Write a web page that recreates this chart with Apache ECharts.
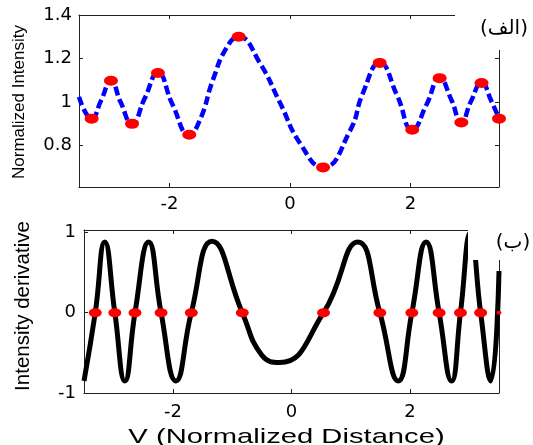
<!DOCTYPE html>
<html>
<head>
<meta charset="utf-8">
<script src="https://cdn.jsdelivr.net/npm/echarts@6/dist/echarts.min.js"></script>
<style>html,body{margin:0;padding:0;background:#fff;}#c{width:533px;height:445px;}</style>
</head>
<body>
<div id="c"></div>
<script>
// Top panel: normalized intensity curve
var topX = [-3.5, -3.29, -3.13, -2.97, -2.81, -2.62, -2.41, -2.19, -1.95, -1.67, -1.49, -1.28, -1.05, -0.85, -0.5, -0.17, 0.17, 0.55, 1.0, 1.21, 1.49, 1.78, 2.03, 2.27, 2.485, 2.68, 2.845, 3.0, 3.18, 3.35, 3.47];
var topY = [1.024, 0.924, 1.01, 1.098, 1.0, 0.90, 1.017, 1.134, 0.99, 0.85, 0.92, 1.10, 1.25, 1.30, 1.18, 1.0, 0.81, 0.70, 0.87, 1.04, 1.18, 1.03, 0.873, 0.99, 1.11, 1.01, 0.906, 1.0, 1.088, 1.0, 0.924];
// Top panel: extrema markers
var topExtX = [-3.29, -2.97, -2.62, -2.19, -1.67, -0.85, 0.55, 1.49, 2.03, 2.485, 2.845, 3.18, 3.47];
var topExtY = [0.924, 1.098, 0.90, 1.134, 0.85, 1.30, 0.70, 1.18, 0.873, 1.11, 0.906, 1.088, 0.924];
// Bottom panel: intensity derivative curve
var botX = [-3.5, -3.31, -3.15, -2.98, -2.81, -2.64, -2.41, -2.20, -1.95, -1.69, -1.34, -0.83, -0.5, -0.2, 0.54, 1.12, 1.49, 1.8, 2.03, 2.27, 2.49, 2.7, 2.85, 3.02, 3.19, 3.36, 3.5];
var botY = [-0.85, 0, 0.88, 0, -0.85, 0, 0.88, 0, -0.85, 0, 0.89, 0, -0.53, -0.62, 0, 0.88, 0, -0.85, 0, 0.88, 0, -0.85, 0, 1.0, 0, -0.85, 0.52];
// Bottom panel: zero crossings
var zeroX = [-3.31, -2.98, -2.64, -2.20, -1.69, -0.83, 0.54, 1.49, 2.03, 2.49, 2.85, 3.19, 3.5];
var zeroY = [0, 0, 0, 0, 0, 0, 0, 0, 0, 0, 0, 0, 0];
// Tick values
var topXTicks = [-2, 0, 2];
var topYTicks = [0.8, 1, 1.2, 1.4];
var botXTicks = [-2, 0, 2];
var botYTicks = [-1, 0, 1];

function pairs(xs, ys) { return xs.map(function (x, i) { return [x, ys[i]]; }); }

var axisColor = '#222';
var labelFont = { fontFamily: 'DejaVu Sans', fontSize: 18, color: '#000' };

function xAx(grid, min, max, ticks, pos, showLabel, margin) {
  return {
    type: 'value', gridIndex: grid, min: min, max: max, position: pos,
    axisLine: { show: true, onZero: false, lineStyle: { color: axisColor, width: 1 } },
    axisTick: { show: true, inside: true, length: 4, customValues: ticks, lineStyle: { color: axisColor } },
    axisLabel: Object.assign({ show: showLabel, customValues: ticks, margin: margin }, labelFont),
    splitLine: { show: false }
  };
}
function yAx(grid, min, max, ticks, pos, showLabel, margin, fmt) {
  return {
    type: 'value', gridIndex: grid, min: min, max: max, position: pos,
    axisLine: { show: true, onZero: false, lineStyle: { color: axisColor, width: 1 } },
    axisTick: { show: true, inside: true, length: 4, customValues: ticks, lineStyle: { color: axisColor } },
    axisLabel: Object.assign({ show: showLabel, customValues: ticks, margin: margin, formatter: fmt }, labelFont),
    splitLine: { show: false }
  };
}
var fmt = function (v) { return String(Math.round(v * 10) / 10); };

var chart = echarts.init(document.getElementById('c'));
chart.setOption({
  animation: false,
  backgroundColor: '#fff',
  grid: [
    { left: 79, top: 15, width: 420, height: 172 },
    { left: 84, top: 230, width: 415, height: 163 }
  ],
  xAxis: [
    xAx(0, -3.5, 3.47, topXTicks, 'bottom', true, 8),
    xAx(0, -3.5, 3.47, topXTicks, 'top', false, 8),
    xAx(1, -3.5, 3.5, botXTicks, 'bottom', true, 10),
    xAx(1, -3.5, 3.5, botXTicks, 'top', false, 10)
  ],
  yAxis: [
    yAx(0, 0.61, 1.4, topYTicks, 'left', true, 7, fmt),
    yAx(0, 0.61, 1.4, topYTicks, 'right', false, 7, fmt),
    yAx(1, -1, 1.03, botYTicks, 'left', true, 8, fmt),
    yAx(1, -1, 1.03, botYTicks, 'right', false, 8, fmt)
  ],
  series: [
    {
      type: 'line', xAxisIndex: 0, yAxisIndex: 0, data: pairs(topX, topY),
      smooth: 0.5, showSymbol: false, z: 2,
      lineStyle: { color: '#0000FF', width: 4.5, type: [9, 4], cap: 'butt' }
    },
    {
      type: 'scatter', xAxisIndex: 0, yAxisIndex: 0, data: pairs(topExtX, topExtY),
      symbol: 'circle', symbolSize: [14, 10], z: 3,
      itemStyle: { color: '#FF0000', opacity: 1 }
    },
    {
      type: 'line', xAxisIndex: 2, yAxisIndex: 2, data: pairs(botX, botY),
      smooth: 0.5, showSymbol: false, z: 2,
      lineStyle: { color: '#000', width: 5 }
    },
    {
      type: 'scatter', xAxisIndex: 2, yAxisIndex: 2, data: pairs(zeroX, zeroY),
      symbol: 'circle', z: 3,
      symbolSize: function (v) { return v[0] >= 3.5 ? [5, 4] : [13, 9]; },
      itemStyle: { color: '#FF0000', opacity: 1 }
    }
  ],
  graphic: [
    { type: 'rect', z: 100, shape: { x: 455, y: 0, width: 78, height: 50 }, style: { fill: '#fff' } },
    { type: 'rect', z: 100, shape: { x: 468, y: 215, width: 65, height: 45 }, style: { fill: '#fff' } },
    { type: 'text', z: 101, x: 504, y: 29, style: { text: '(الف)', font: '20px "DejaVu Sans"', fill: '#000', align: 'center', verticalAlign: 'middle' } },
    { type: 'text', z: 101, x: 513, y: 243, style: { text: '(ب)', font: '20px "DejaVu Sans"', fill: '#000', align: 'center', verticalAlign: 'middle' } },
    { type: 'text', z: 101, x: 19, y: 102, rotation: Math.PI / 2, style: { text: 'Normalized Intensity', font: '17px "Liberation Sans"', fill: '#000', align: 'center', verticalAlign: 'middle' } },
    { type: 'text', z: 101, x: 23.5, y: 306, rotation: Math.PI / 2, style: { text: 'Intensity derivative', font: '20.5px "Liberation Sans"', fill: '#000', align: 'center', verticalAlign: 'middle' } },
    { type: 'text', z: 101, x: 286.5, y: 437, scaleX: 1.39, style: { text: 'V (Normalized Distance)', font: '21px "Liberation Sans"', fill: '#000', align: 'center', verticalAlign: 'middle' } }
  ]
});
</script>
</body>
</html>
